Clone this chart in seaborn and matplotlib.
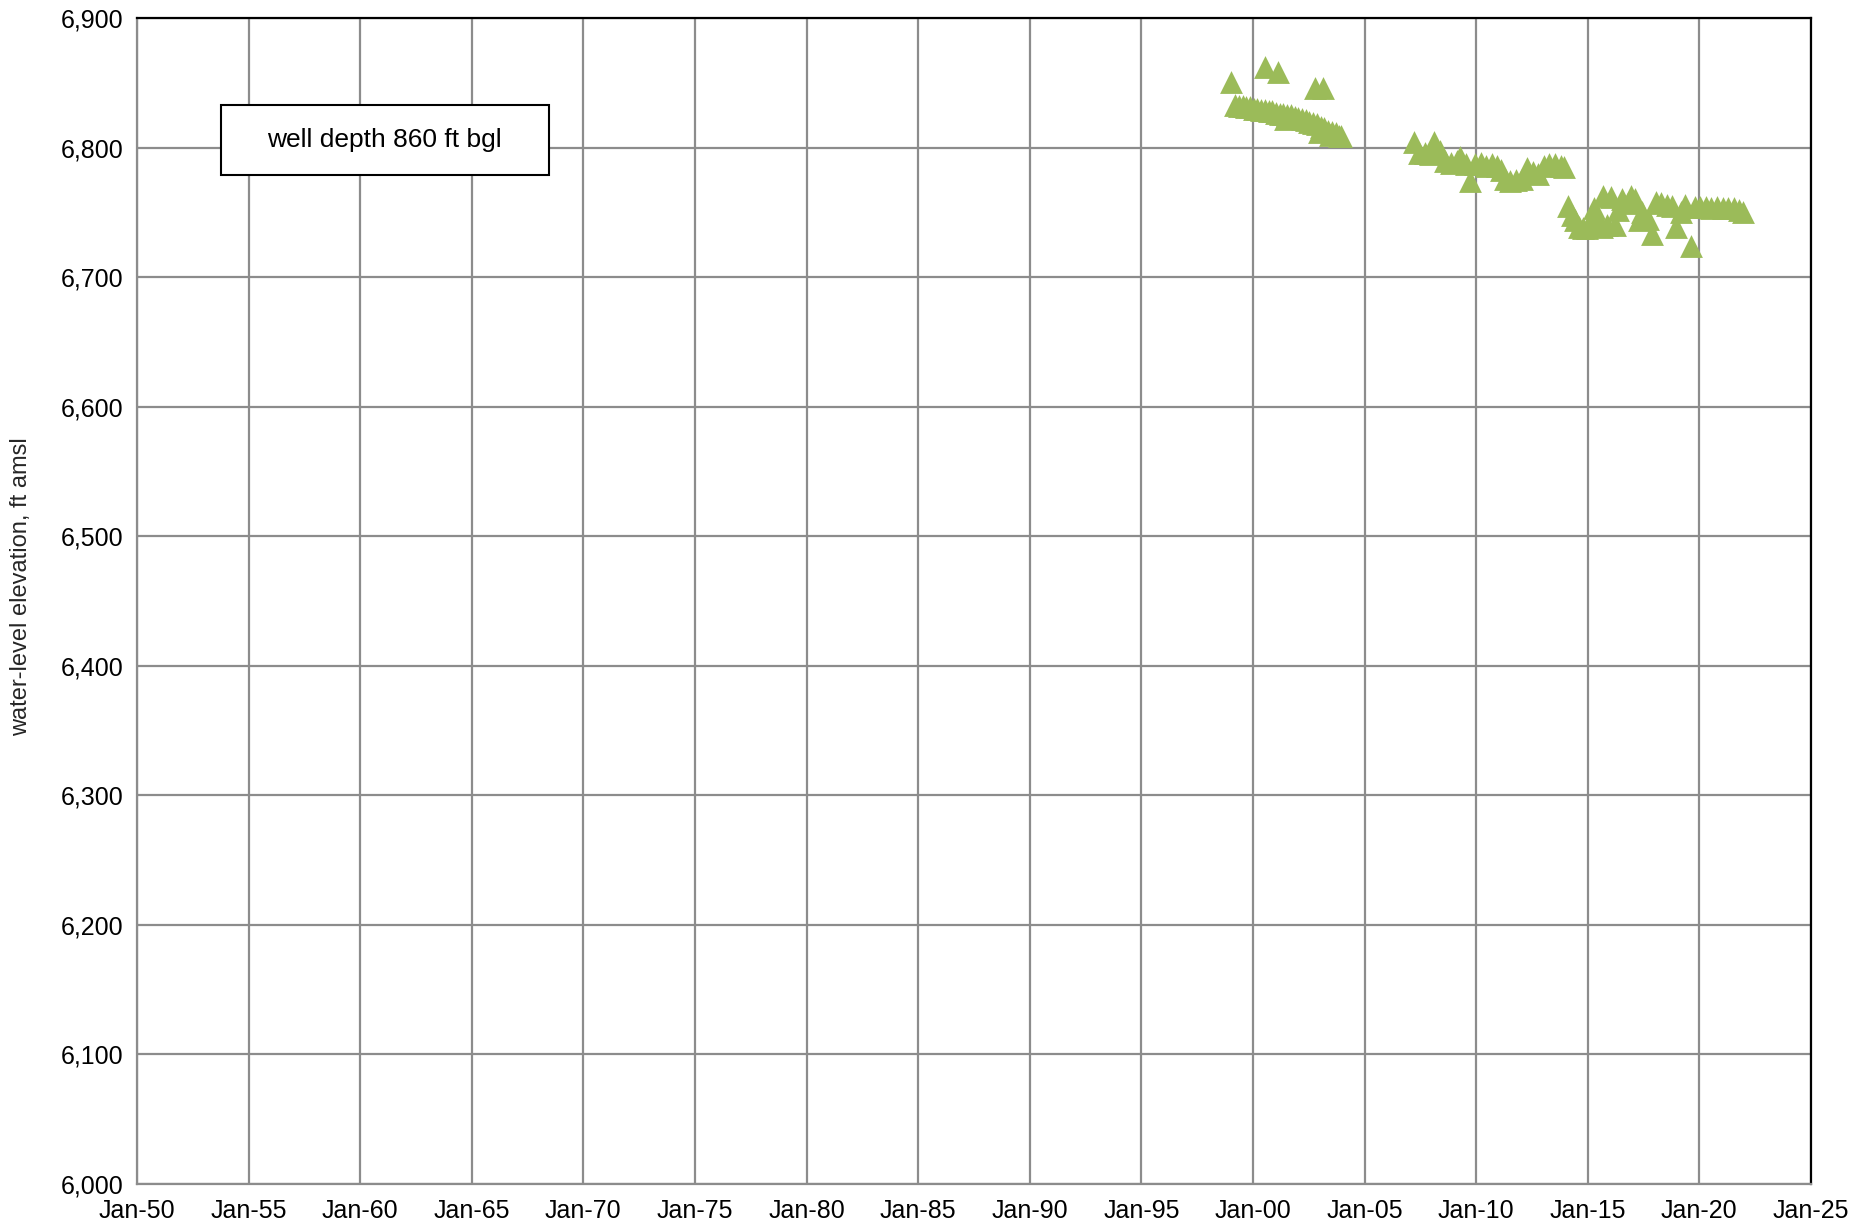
import pandas as pd
import matplotlib.pyplot as plt
import matplotlib.dates as mdates
from matplotlib.patches import Rectangle
from matplotlib.ticker import FuncFormatter
import seaborn as sns

dates = [
    # outliers 1999-2003
    '1999-01-15', '2000-07-15', '2001-02-15', '2002-10-15', '2003-02-15',
    # band 1999-2004
    '1999-03-15', '1999-05-15', '1999-07-15', '1999-09-15', '1999-11-15',
    '2000-01-15', '2000-03-15', '2000-05-15', '2000-07-20', '2000-09-15',
    '2000-11-15', '2001-01-15', '2001-03-15', '2001-05-15', '2001-06-15',
    '2001-07-15', '2001-09-15', '2001-11-15', '2002-01-15', '2002-03-15',
    '2002-05-15', '2002-07-15', '2002-09-15', '2002-11-15', '2002-12-15',
    '2003-01-15', '2003-03-15', '2003-05-15', '2003-06-15', '2003-07-15',
    '2003-09-15', '2003-11-15', '2003-12-15',
    # band 2007-2014
    '2007-03-15', '2007-06-15', '2007-09-15', '2007-12-15', '2008-02-15',
    '2008-05-15', '2008-08-15', '2008-11-15', '2009-02-15', '2009-04-15',
    '2009-07-15', '2009-09-15', '2009-12-15', '2010-03-15', '2010-06-15',
    '2010-09-15', '2010-12-15', '2011-02-15', '2011-04-15', '2011-07-15',
    '2011-10-15', '2012-01-15', '2012-04-15', '2012-07-15', '2012-10-15',
    '2013-01-15', '2013-04-15', '2013-07-15', '2013-10-15', '2013-12-15',
    # band 2014-2022
    '2014-02-15', '2014-04-15', '2014-06-15', '2014-08-15', '2014-10-15',
    '2014-12-15', '2015-02-15', '2015-04-15', '2015-06-15', '2015-08-15',
    '2015-09-15', '2015-11-15', '2016-01-15', '2016-03-15', '2016-05-15',
    '2016-07-15', '2016-10-15', '2016-12-15', '2017-02-15', '2017-04-15',
    '2017-06-15', '2017-09-15', '2017-11-15', '2018-01-15', '2018-04-15',
    '2018-07-15', '2018-10-15', '2018-12-15', '2019-03-15', '2019-05-15',
    '2019-08-15', '2019-10-15', '2020-01-15', '2020-04-15', '2020-07-15',
    '2020-10-15', '2021-01-15', '2021-04-15', '2021-07-15', '2021-10-15',
    '2021-12-15',
]
elevation = [
    6851, 6862, 6858, 6846, 6846,
    6833, 6832, 6832, 6831, 6831,
    6830, 6830, 6829, 6829, 6828,
    6828, 6827, 6826, 6826, 6822,
    6825, 6825, 6824, 6823, 6822,
    6821, 6820, 6819, 6818, 6812,
    6816, 6815, 6813, 6810, 6812,
    6811, 6809, 6809,
    6804, 6796, 6796, 6795, 6804,
    6797, 6790, 6788, 6790, 6793,
    6787, 6774, 6787, 6788, 6786,
    6787, 6786, 6783, 6776, 6774,
    6775, 6776, 6784, 6781, 6780,
    6786, 6787, 6787, 6786, 6785,
    6755, 6748, 6744, 6739, 6738,
    6738, 6740, 6753, 6745, 6739,
    6763, 6740, 6762, 6740, 6752,
    6760, 6757, 6763, 6760, 6744,
    6750, 6745, 6733, 6758, 6757,
    6756, 6755, 6739, 6750, 6756,
    6724, 6754, 6754, 6754, 6753,
    6754, 6753, 6753, 6753, 6752,
    6750,
]

y_ticks = list(range(6000, 6901, 100))
box_text = 'well depth 860 ft bgl'
y_label = 'water-level elevation, ft amsl'

df = pd.DataFrame({'date': pd.to_datetime(dates), 'elev': elevation})

sns.set_style('white')
plt.rcParams['font.family'] = ['Liberation Sans', 'DejaVu Sans']

fig = plt.figure(figsize=(18.71, 12.28), dpi=100)
ax = fig.add_axes([0.0732, 0.0358, 0.8947, 0.9495])

sns.scatterplot(data=df, x='date', y='elev', marker='^', s=270,
                color='#9BBB59', linewidth=0, ax=ax, zorder=3)

ax.set_xlim(pd.Timestamp('1950-01-01'), pd.Timestamp('2025-01-01'))
ax.set_ylim(6000, 6900)
ax.set_yticks(y_ticks)
ax.yaxis.set_major_formatter(FuncFormatter(lambda v, p: f'{int(v):,}'))
ax.xaxis.set_major_locator(mdates.YearLocator(5))
ax.xaxis.set_major_formatter(mdates.DateFormatter('%b-%y'))

ax.grid(True, color='#8c8c8c', linewidth=1.6)
ax.set_axisbelow(True)
ax.tick_params(axis='both', labelsize=18, colors='#8c8c8c', labelcolor='black',
               length=6, width=1.6, direction='out')
ax.tick_params(axis='x', pad=5)

for side in ['left', 'bottom']:
    ax.spines[side].set_color('#8c8c8c')
    ax.spines[side].set_linewidth(1.6)
for side in ['top', 'right']:
    ax.spines[side].set_color('black')
    ax.spines[side].set_linewidth(1.6)

ax.set_xlabel('')
ax.set_ylabel(y_label, fontsize=17, va='center')
ax.yaxis.set_label_coords(-0.069, 0.512)

ax.add_patch(Rectangle((0.0502, 0.8654), 0.1959, 0.0600, transform=ax.transAxes,
                       facecolor='white', edgecolor='black', linewidth=1.5, zorder=4))
ax.text(0.148, 0.8954, box_text, transform=ax.transAxes, ha='center', va='center',
        fontsize=19, color='black', zorder=5)

fig.savefig('out.png', dpi=100)
